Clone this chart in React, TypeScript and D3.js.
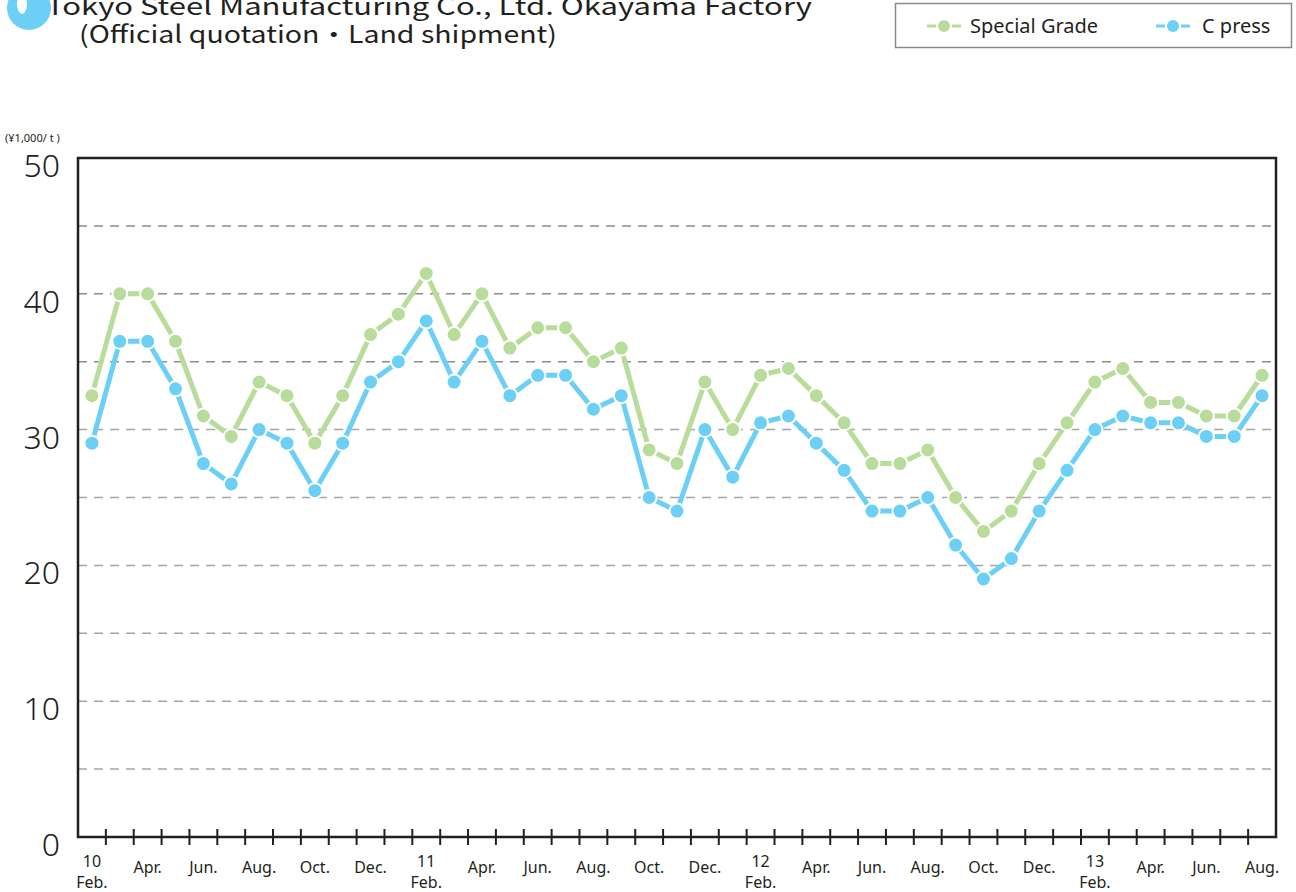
import React from "react";
import * as d3 from "d3";

const monthLabels: string[] = [
  "10|Feb.", "", "Apr.", "", "Jun.", "", "Aug.", "", "Oct.", "", "Dec.", "",
  "11|Feb.", "", "Apr.", "", "Jun.", "", "Aug.", "", "Oct.", "", "Dec.", "",
  "12|Feb.", "", "Apr.", "", "Jun.", "", "Aug.", "", "Oct.", "", "Dec.", "",
  "13|Feb.", "", "Apr.", "", "Jun.", "", "Aug.",
];

const specialGrade: number[] = [
  32.5, 40, 40, 36.5, 31, 29.5, 33.5, 32.5, 29, 32.5, 37, 38.5,
  41.5, 37, 40, 36, 37.5, 37.5, 35, 36, 28.5, 27.5, 33.5, 30,
  34, 34.5, 32.5, 30.5, 27.5, 27.5, 28.5, 25, 22.5, 24, 27.5, 30.5,
  33.5, 34.5, 32, 32, 31, 31, 34,
];

const cPress: number[] = [
  29, 36.5, 36.5, 33, 27.5, 26, 30, 29, 25.5, 29, 33.5, 35,
  38, 33.5, 36.5, 32.5, 34, 34, 31.5, 32.5, 25, 24, 30, 26.5,
  30.5, 31, 29, 27, 24, 24, 25, 21.5, 19, 20.5, 24, 27,
  30, 31, 30.5, 30.5, 29.5, 29.5, 32.5,
];

const yTickLabels: number[] = [0, 10, 20, 30, 40, 50];
const gridValues: number[] = [5, 10, 15, 20, 25, 30, 35, 40, 45];

const seriesNames = ["Special Grade", "C press"];
const GREEN = "#b8dc9a";
const BLUE = "#6ccff6";

const W = 1296;
const H = 892;
const L = 78, R = 1276, T = 158, B = 837;
const FONT = "'Noto Sans', 'Open Sans', sans-serif";

export default function App() {
  const idx = d3.range(monthLabels.length);
  const x = d3.scaleBand<number>().domain(idx).range([L, R]).paddingInner(0).paddingOuter(0);
  const cx = (i: number) => (x(i) as number) + x.bandwidth() / 2;
  const y = d3.scaleLinear().domain([0, 50]).range([B, T]);
  const line = d3.line<number>().x((_, i) => cx(i)).y((d) => y(d));

  const series = [
    { name: seriesNames[0], data: specialGrade, color: GREEN },
    { name: seriesNames[1], data: cPress, color: BLUE },
  ];

  return (
    <svg width={W} height={H} style={{ position: "absolute", left: 0, top: 0, background: "#fff" }}>
      <rect x={0} y={0} width={W} height={H} fill="#fff" />
      {/* title */}
      <circle cx={29} cy={8} r={22} fill={BLUE} />
      <ellipse cx={22} cy={4} rx={5} ry={10} fill="#fff" />
      <text x={46} y={15} fontFamily="'Noto Sans CJK JP', sans-serif" fontSize={24} fontWeight={400} fill="#231f20" textLength={766} lengthAdjust="spacingAndGlyphs">
        Tokyo Steel Manufacturing Co., Ltd. Okayama Factory
      </text>
      <text x={79} y={43} fontFamily="'Noto Sans CJK JP', sans-serif" fontSize={24} fontWeight={400} fill="#231f20" textLength={478} lengthAdjust="spacingAndGlyphs">
        (Official quotation・Land shipment)
      </text>

      {/* legend */}
      <rect x={895.5} y={3.5} width={396} height={44} fill="#fff" stroke="#8a8a8a" strokeWidth={1.5} />
      {series.map((s, k) => {
        const lx = k === 0 ? 927 : 1156;
        const tx = k === 0 ? 970 : 1202;
        return (
          <g key={s.name}>
            <line x1={lx} x2={lx + 9} y1={26} y2={26} stroke={s.color} strokeWidth={3} />
            <circle cx={lx + 17} cy={26} r={6} fill={s.color} />
            <line x1={lx + 25} x2={lx + 34} y1={26} y2={26} stroke={s.color} strokeWidth={3} />
            <text x={tx} y={33} fontFamily={FONT} fontSize={20} fill="#231f20">{s.name}</text>
          </g>
        );
      })}

      {/* unit */}
      <text x={5} y={142} fontFamily={FONT} fontSize={11} fill="#231f20">(¥1,000/ t )</text>

      {/* grid */}
      {gridValues.map((v) => (
        <line key={v} x1={L} x2={R} y1={y(v)} y2={y(v)} stroke={v >= 35 ? "#8c8c8c" : "#a6a6a6"} strokeWidth={1.5} strokeDasharray="9 7" />
      ))}

      {/* y labels */}
      {yTickLabels.map((v) => (
        <text key={v} x={60} y={y(v) + 19} textAnchor="end" fontFamily={FONT} fontSize={32} fontWeight={300} fill="#231f20">{v}</text>
      ))}

      {/* lines */}
      {series.map((s) => (
        <path key={s.name} d={line(s.data) || ""} fill="none" stroke={s.color} strokeWidth={5} strokeLinejoin="round" />
      ))}
      {series.map((s) => (
        <g key={s.name + "pts"}>
          {s.data.map((v, i) => (
            <circle key={i} cx={cx(i)} cy={y(v)} r={7.5} fill={s.color} stroke="#fff" strokeWidth={2} />
          ))}
        </g>
      ))}

      {/* frame */}
      <rect x={L} y={T} width={R - L} height={B - T} fill="none" stroke="#231f20" strokeWidth={2.5} />
      {idx.slice(1).map((i) => (
        <line key={i} x1={x(i) as number} x2={x(i) as number} y1={829} y2={845} stroke="#231f20" strokeWidth={2} />
      ))}

      {/* x labels */}
      {monthLabels.map((lab, i) => {
        if (!lab) return null;
        if (lab.includes("|")) {
          const [yr, m] = lab.split("|");
          return (
            <g key={i}>
              <text x={cx(i)} y={867} textAnchor="middle" fontFamily={FONT} fontSize={16} fill="#231f20">{yr}</text>
              <text x={cx(i)} y={888} textAnchor="middle" fontFamily={FONT} fontSize={16} fill="#231f20">{m}</text>
            </g>
          );
        }
        return (
          <text key={i} x={cx(i)} y={873} textAnchor="middle" fontFamily={FONT} fontSize={16} fill="#231f20">{lab}</text>
        );
      })}
    </svg>
  );
}
